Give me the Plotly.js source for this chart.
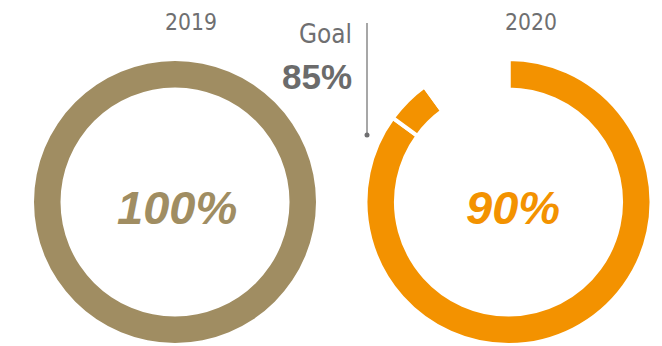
<!DOCTYPE html>
<html>
<head>
<meta charset="utf-8">
<script src="https://cdn.plot.ly/plotly-3.0.1.min.js"></script>
<style>
html,body{margin:0;padding:0;background:#fff;}
#chart{width:662px;height:346px;}
</style>
</head>
<body>
<div id="chart"></div>
<script>
// ---- data ----
const years = ["2019", "2020"];
const actualPct = [100, 90];
const goalPct = 85;
const goalLabel = "Goal";
const colors = ["#a08d62", "#f39200"];

// ---- helpers (pixel -> paper) ----
const W = 662, H = 346;
const px = v => v / W;
const py = v => 1 - v / H;

const narrow = "'Liberation Sans Narrow', 'Arial Narrow', 'DejaVu Sans Condensed', sans-serif";
const sans = "'Liberation Sans', Arial, sans-serif";

// pick a font size so the condensed label spans about the wanted pixel width
const ctx = document.createElement("canvas").getContext("2d");
function fitSize(text, family, targetW, maxSize) {
  ctx.font = "100px " + family;
  const w = ctx.measureText(text).width;
  return Math.min(maxSize, Math.round(100 * targetW / w * 10) / 10);
}
const yearSize = fitSize(years[0], narrow, 52, 26);
const goalSize = fitSize(goalLabel, narrow, 53, 28);

// 2019: single full ring
const pie2019 = {
  type: "pie",
  values: [actualPct[0], 100 - actualPct[0]],
  marker: {colors: [colors[0], "rgba(0,0,0,0)"], line: {width: 0}},
  hole: 0.812,
  sort: false,
  direction: "clockwise",
  rotation: 0,
  textinfo: "none",
  hoverinfo: "skip",
  showlegend: false,
  domain: {x: [px(34), px(316)], y: [py(343), py(61)]}
};

// 2020: split at goal with white notch, gap for the remainder
const pie2020 = {
  type: "pie",
  values: [goalPct, actualPct[1] - goalPct, 100 - actualPct[1]],
  marker: {colors: [colors[1], colors[1], "rgba(0,0,0,0)"], line: {color: "#ffffff", width: 4}},
  hole: 0.787,
  sort: false,
  direction: "clockwise",
  rotation: 0,
  textinfo: "none",
  hoverinfo: "skip",
  showlegend: false,
  domain: {x: [px(365.5), px(651.5)], y: [py(345), py(59)]}
};

const annotations = [
  {text: years[0], x: px(191), y: py(22), xref: "paper", yref: "paper", showarrow: false,
   xanchor: "center", yanchor: "middle", font: {family: narrow, size: yearSize, color: "#6f6f71"}},
  {text: years[1], x: px(531), y: py(22), xref: "paper", yref: "paper", showarrow: false,
   xanchor: "center", yanchor: "middle", font: {family: narrow, size: yearSize, color: "#6f6f71"}},
  {text: "<b><i>" + actualPct[0] + "%</i></b>", x: px(177), y: py(207), xref: "paper", yref: "paper", showarrow: false,
   xanchor: "center", yanchor: "middle", font: {family: sans, size: 47, color: colors[0]}},
  {text: "<b><i>" + actualPct[1] + "%</i></b>", x: px(513), y: py(207), xref: "paper", yref: "paper", showarrow: false,
   xanchor: "center", yanchor: "middle", font: {family: sans, size: 47, color: colors[1]}},
  {text: goalLabel, x: px(354), y: py(34), xref: "paper", yref: "paper", showarrow: false,
   xanchor: "right", yanchor: "middle", font: {family: narrow, size: goalSize, color: "#6f6f71"}},
  {text: "<b>" + goalPct + "%</b>", x: px(354), y: py(76), xref: "paper", yref: "paper", showarrow: false,
   xanchor: "right", yanchor: "middle", font: {family: sans, size: 35, color: "#6b6b6b"}}
];

const shapes = [
  {type: "line", xref: "paper", yref: "paper", x0: px(367), x1: px(367), y0: py(23), y1: py(134),
   line: {color: "#8a8a8a", width: 1.5}},
  {type: "circle", xref: "paper", yref: "paper", x0: px(364.5), x1: px(369.5), y0: py(137.5), y1: py(132.5),
   fillcolor: "#6f6f71", line: {width: 0}}
];

Plotly.newPlot("chart", [pie2019, pie2020], {
  width: W, height: H,
  margin: {l: 0, r: 0, t: 0, b: 0},
  paper_bgcolor: "#ffffff",
  plot_bgcolor: "#ffffff",
  showlegend: false,
  annotations: annotations,
  shapes: shapes
}, {displayModeBar: false, staticPlot: true});
</script>
</body>
</html>
